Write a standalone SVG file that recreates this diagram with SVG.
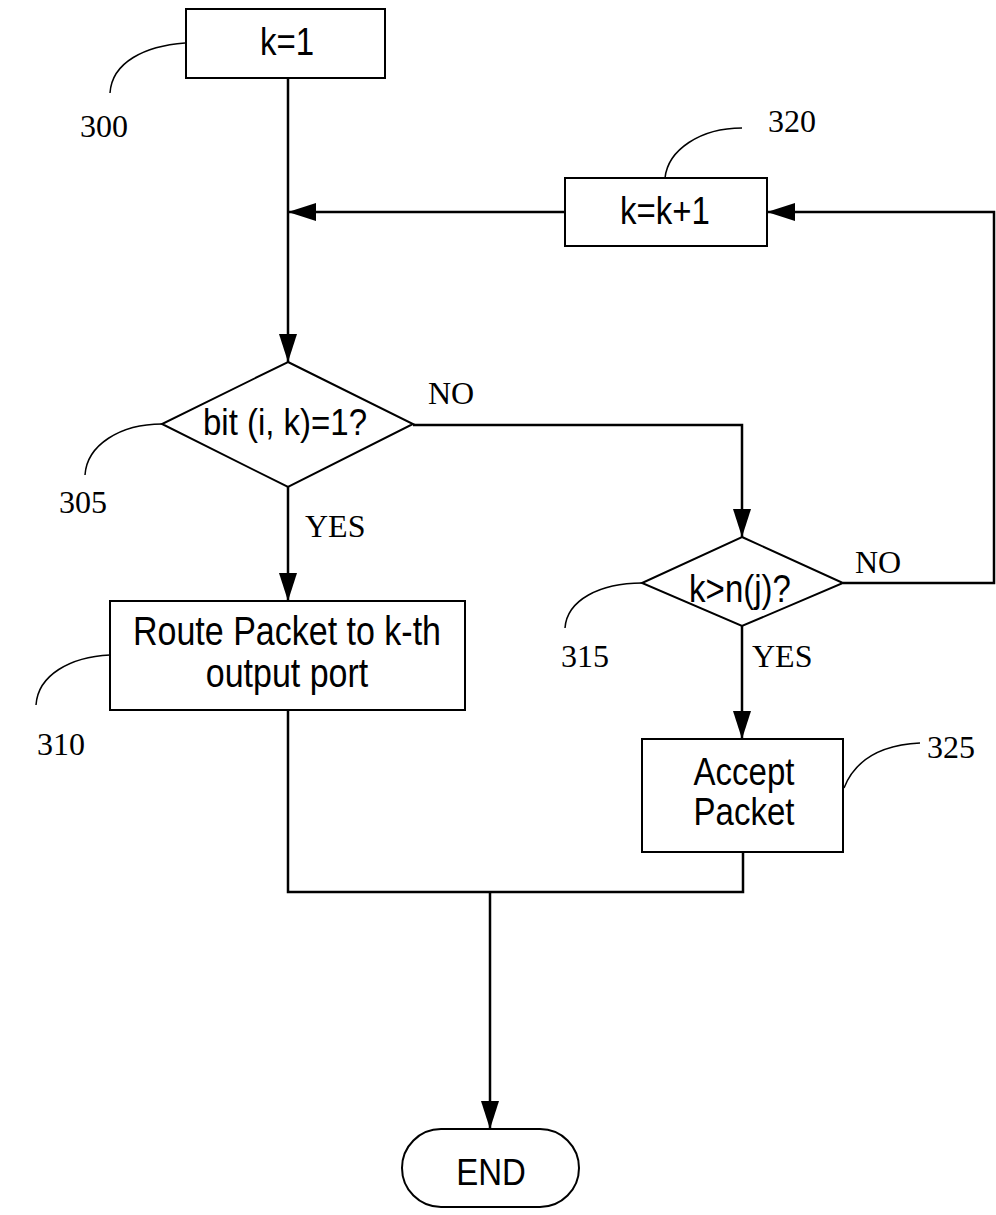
<svg xmlns="http://www.w3.org/2000/svg" width="996" height="1215" viewBox="0 0 996 1215">
<style>
.box{fill:#fff;stroke:#000;stroke-width:2}
.wire{fill:none;stroke:#000;stroke-width:2.5}
.lead{fill:none;stroke:#000;stroke-width:1.5}
.t{font-family:"Liberation Sans",Arial,sans-serif;font-size:33px;fill:#000;text-anchor:middle}
.lbl{font-family:"Liberation Serif","Times New Roman",serif;font-size:32px;fill:#000}
</style>
<defs>
<marker id="arr" markerWidth="28" markerHeight="18" refX="28" refY="9" orient="auto" markerUnits="userSpaceOnUse">
<path d="M0,0 L28,9 L0,18 Z" fill="#000"/>
</marker>
</defs>
<rect width="996" height="1215" fill="#fff"/>
<g id="connectors">
<path class="wire" d="M288,78 L288,362" marker-end="url(#arr)"/>
<path class="wire" d="M565,212 L288,212" marker-end="url(#arr)"/>
<path class="wire" d="M413,425 L742,425 L742,537" marker-end="url(#arr)"/>
<path class="wire" d="M843,583 L994,583 L994,212 L767,212" marker-end="url(#arr)"/>
<path class="wire" d="M288,487 L288,601" marker-end="url(#arr)"/>
<path class="wire" d="M742,626 L742,739" marker-end="url(#arr)"/>
<path class="wire" d="M288,710 L288,892 L743,892 L743,852"/>
<path class="wire" d="M490,892 L490,1129" marker-end="url(#arr)"/>
</g>
<g id="n300">
<rect class="box" x="186" y="9" width="199" height="69"/>
<text class="t" transform="translate(287,55) scale(1,1.17)">k=1</text>
<path class="lead" d="M185,43 C145,46 112,62 110,93"/>
<text class="lbl" x="80" y="137">300</text>
</g>
<g id="n320">
<rect class="box" x="565" y="178" width="202" height="68"/>
<text class="t" transform="translate(665,224) scale(1,1.17)">k=k+1</text>
<path class="lead" d="M665,178 C668,150 700,128 742,128"/>
<text class="lbl" x="768" y="132">320</text>
</g>
<g id="n305">
<polygon class="box" points="288,362 413,424 288,487 162,424"/>
<text class="t" transform="translate(285,435) scale(1,1.1)">bit (i, k)=1?</text>
<path class="lead" d="M162,424 C120,424 87,445 85,475"/>
<text class="lbl" x="59" y="513">305</text>
<text class="lbl" x="428" y="404">NO</text>
<text class="lbl" x="305" y="537">YES</text>
</g>
<g id="n315">
<polygon class="box" points="742,537 843,583 742,626 642,583"/>
<text class="t" transform="translate(740,602) scale(1,1.15)">k&gt;n(j)?</text>
<path class="lead" d="M642,583 C600,583 567,600 565,628"/>
<text class="lbl" x="561" y="667">315</text>
<text class="lbl" x="855" y="573">NO</text>
<text class="lbl" x="752" y="667">YES</text>
</g>
<g id="n310">
<rect class="box" x="110" y="601" width="355" height="109"/>
<text class="t" transform="translate(287,645) scale(1,1.2)" style="font-size:34px">Route Packet to k-th</text>
<text class="t" transform="translate(287,687) scale(1,1.2)" style="font-size:34px">output port</text>
<path class="lead" d="M110,655 C70,657 38,675 36,705"/>
<text class="lbl" x="37" y="755">310</text>
</g>
<g id="n325">
<rect class="box" x="642" y="739" width="201" height="113"/>
<text class="t" transform="translate(744,785) scale(1,1.17)">Accept</text>
<text class="t" transform="translate(744,825) scale(1,1.17)">Packet</text>
<path class="lead" d="M844,788 C855,760 880,745 920,743"/>
<text class="lbl" x="927" y="758">325</text>
</g>
<g id="end">
<rect class="box" x="402" y="1129" width="177" height="78" rx="39" ry="39"/>
<text class="t" transform="translate(491,1185) scale(1,1.1)">END</text>
</g>
</svg>
